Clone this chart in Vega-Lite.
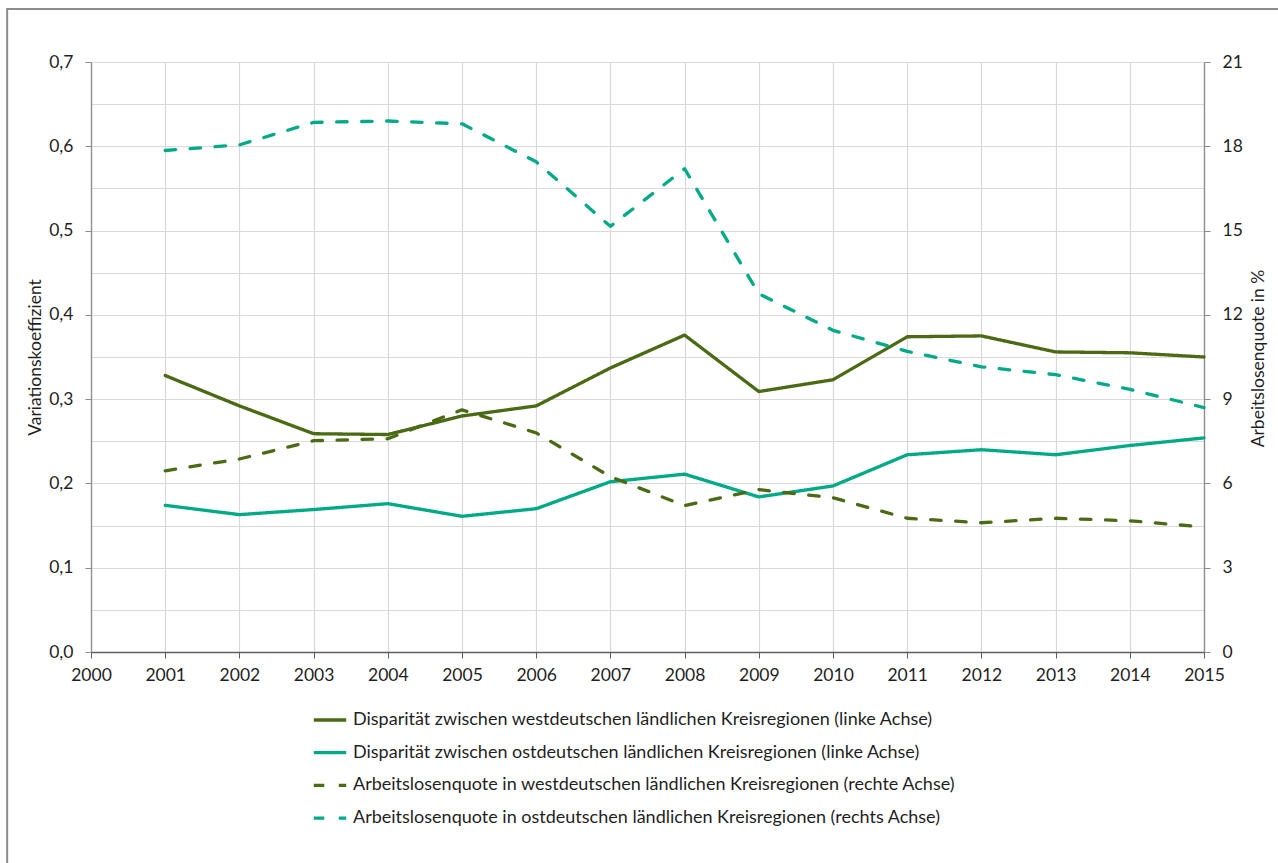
{
  "$schema": "https://vega.github.io/schema/vega-lite/v6.json",
  "width": 1113,
  "height": 590,
  "autosize": {"type": "none"},
  "padding": {"left": 91, "top": 62, "right": 74, "bottom": 211},
  "background": "white",
  "config": {
    "view": {"stroke": null},
    "font": "Lato",
    "axis": {
      "labelFont": "Lato",
      "labelFontSize": 17.5,
      "labelColor": "#1f1f1f",
      "titleFont": "Lato",
      "titleFontSize": 17.5,
      "titleFontWeight": "normal",
      "titleColor": "#1f1f1f",
      "tickSize": 6,
      "tickWidth": 1,
      "domainWidth": 1.3,
      "gridColor": "#d9d9d9",
      "gridWidth": 1.2
    },
    "legend": {
      "orient": "none",
      "legendX": 221,
      "legendY": 640,
      "direction": "vertical",
      "padding": 0,
      "symbolType": "stroke",
      "symbolSize": 1050,
      "symbolStrokeWidth": 3.3,
      "labelFont": "Lato",
      "labelFontSize": 18,
      "labelColor": "#1f1f1f",
      "labelOffset": 5,
      "labelLimit": 0,
      "rowPadding": 5.7
    }
  },
  "datasets": {
    "disparitaet": [
      {"jahr": 2001, "reihe": "Disparität zwischen westdeutschen ländlichen Kreisregionen (linke Achse)", "wert": 0.328},
      {"jahr": 2002, "reihe": "Disparität zwischen westdeutschen ländlichen Kreisregionen (linke Achse)", "wert": 0.292},
      {"jahr": 2003, "reihe": "Disparität zwischen westdeutschen ländlichen Kreisregionen (linke Achse)", "wert": 0.259},
      {"jahr": 2004, "reihe": "Disparität zwischen westdeutschen ländlichen Kreisregionen (linke Achse)", "wert": 0.258},
      {"jahr": 2005, "reihe": "Disparität zwischen westdeutschen ländlichen Kreisregionen (linke Achse)", "wert": 0.280},
      {"jahr": 2006, "reihe": "Disparität zwischen westdeutschen ländlichen Kreisregionen (linke Achse)", "wert": 0.292},
      {"jahr": 2007, "reihe": "Disparität zwischen westdeutschen ländlichen Kreisregionen (linke Achse)", "wert": 0.337},
      {"jahr": 2008, "reihe": "Disparität zwischen westdeutschen ländlichen Kreisregionen (linke Achse)", "wert": 0.376},
      {"jahr": 2009, "reihe": "Disparität zwischen westdeutschen ländlichen Kreisregionen (linke Achse)", "wert": 0.309},
      {"jahr": 2010, "reihe": "Disparität zwischen westdeutschen ländlichen Kreisregionen (linke Achse)", "wert": 0.323},
      {"jahr": 2011, "reihe": "Disparität zwischen westdeutschen ländlichen Kreisregionen (linke Achse)", "wert": 0.374},
      {"jahr": 2012, "reihe": "Disparität zwischen westdeutschen ländlichen Kreisregionen (linke Achse)", "wert": 0.375},
      {"jahr": 2013, "reihe": "Disparität zwischen westdeutschen ländlichen Kreisregionen (linke Achse)", "wert": 0.356},
      {"jahr": 2014, "reihe": "Disparität zwischen westdeutschen ländlichen Kreisregionen (linke Achse)", "wert": 0.355},
      {"jahr": 2015, "reihe": "Disparität zwischen westdeutschen ländlichen Kreisregionen (linke Achse)", "wert": 0.350},
      {"jahr": 2001, "reihe": "Disparität zwischen ostdeutschen ländlichen Kreisregionen (linke Achse)", "wert": 0.174},
      {"jahr": 2002, "reihe": "Disparität zwischen ostdeutschen ländlichen Kreisregionen (linke Achse)", "wert": 0.163},
      {"jahr": 2003, "reihe": "Disparität zwischen ostdeutschen ländlichen Kreisregionen (linke Achse)", "wert": 0.169},
      {"jahr": 2004, "reihe": "Disparität zwischen ostdeutschen ländlichen Kreisregionen (linke Achse)", "wert": 0.176},
      {"jahr": 2005, "reihe": "Disparität zwischen ostdeutschen ländlichen Kreisregionen (linke Achse)", "wert": 0.161},
      {"jahr": 2006, "reihe": "Disparität zwischen ostdeutschen ländlichen Kreisregionen (linke Achse)", "wert": 0.170},
      {"jahr": 2007, "reihe": "Disparität zwischen ostdeutschen ländlichen Kreisregionen (linke Achse)", "wert": 0.202},
      {"jahr": 2008, "reihe": "Disparität zwischen ostdeutschen ländlichen Kreisregionen (linke Achse)", "wert": 0.211},
      {"jahr": 2009, "reihe": "Disparität zwischen ostdeutschen ländlichen Kreisregionen (linke Achse)", "wert": 0.184},
      {"jahr": 2010, "reihe": "Disparität zwischen ostdeutschen ländlichen Kreisregionen (linke Achse)", "wert": 0.197},
      {"jahr": 2011, "reihe": "Disparität zwischen ostdeutschen ländlichen Kreisregionen (linke Achse)", "wert": 0.234},
      {"jahr": 2012, "reihe": "Disparität zwischen ostdeutschen ländlichen Kreisregionen (linke Achse)", "wert": 0.240},
      {"jahr": 2013, "reihe": "Disparität zwischen ostdeutschen ländlichen Kreisregionen (linke Achse)", "wert": 0.234},
      {"jahr": 2014, "reihe": "Disparität zwischen ostdeutschen ländlichen Kreisregionen (linke Achse)", "wert": 0.245},
      {"jahr": 2015, "reihe": "Disparität zwischen ostdeutschen ländlichen Kreisregionen (linke Achse)", "wert": 0.254}
    ],
    "arbeitslosenquote": [
      {"jahr": 2001, "reihe": "Arbeitslosenquote in westdeutschen ländlichen Kreisregionen (rechte Achse)", "wert": 6.45},
      {"jahr": 2002, "reihe": "Arbeitslosenquote in westdeutschen ländlichen Kreisregionen (rechte Achse)", "wert": 6.87},
      {"jahr": 2003, "reihe": "Arbeitslosenquote in westdeutschen ländlichen Kreisregionen (rechte Achse)", "wert": 7.52},
      {"jahr": 2004, "reihe": "Arbeitslosenquote in westdeutschen ländlichen Kreisregionen (rechte Achse)", "wert": 7.59},
      {"jahr": 2005, "reihe": "Arbeitslosenquote in westdeutschen ländlichen Kreisregionen (rechte Achse)", "wert": 8.62},
      {"jahr": 2006, "reihe": "Arbeitslosenquote in westdeutschen ländlichen Kreisregionen (rechte Achse)", "wert": 7.80},
      {"jahr": 2007, "reihe": "Arbeitslosenquote in westdeutschen ländlichen Kreisregionen (rechte Achse)", "wert": 6.24},
      {"jahr": 2008, "reihe": "Arbeitslosenquote in westdeutschen ländlichen Kreisregionen (rechte Achse)", "wert": 5.21},
      {"jahr": 2009, "reihe": "Arbeitslosenquote in westdeutschen ländlichen Kreisregionen (rechte Achse)", "wert": 5.78},
      {"jahr": 2010, "reihe": "Arbeitslosenquote in westdeutschen ländlichen Kreisregionen (rechte Achse)", "wert": 5.49},
      {"jahr": 2011, "reihe": "Arbeitslosenquote in westdeutschen ländlichen Kreisregionen (rechte Achse)", "wert": 4.76},
      {"jahr": 2012, "reihe": "Arbeitslosenquote in westdeutschen ländlichen Kreisregionen (rechte Achse)", "wert": 4.60},
      {"jahr": 2013, "reihe": "Arbeitslosenquote in westdeutschen ländlichen Kreisregionen (rechte Achse)", "wert": 4.76},
      {"jahr": 2014, "reihe": "Arbeitslosenquote in westdeutschen ländlichen Kreisregionen (rechte Achse)", "wert": 4.67},
      {"jahr": 2015, "reihe": "Arbeitslosenquote in westdeutschen ländlichen Kreisregionen (rechte Achse)", "wert": 4.45},
      {"jahr": 2001, "reihe": "Arbeitslosenquote in ostdeutschen ländlichen Kreisregionen (rechts Achse)", "wert": 17.85},
      {"jahr": 2002, "reihe": "Arbeitslosenquote in ostdeutschen ländlichen Kreisregionen (rechts Achse)", "wert": 18.05},
      {"jahr": 2003, "reihe": "Arbeitslosenquote in ostdeutschen ländlichen Kreisregionen (rechts Achse)", "wert": 18.85},
      {"jahr": 2004, "reihe": "Arbeitslosenquote in ostdeutschen ländlichen Kreisregionen (rechts Achse)", "wert": 18.9},
      {"jahr": 2005, "reihe": "Arbeitslosenquote in ostdeutschen ländlichen Kreisregionen (rechts Achse)", "wert": 18.8},
      {"jahr": 2006, "reihe": "Arbeitslosenquote in ostdeutschen ländlichen Kreisregionen (rechts Achse)", "wert": 17.45},
      {"jahr": 2007, "reihe": "Arbeitslosenquote in ostdeutschen ländlichen Kreisregionen (rechts Achse)", "wert": 15.15},
      {"jahr": 2008, "reihe": "Arbeitslosenquote in ostdeutschen ländlichen Kreisregionen (rechts Achse)", "wert": 17.2},
      {"jahr": 2009, "reihe": "Arbeitslosenquote in ostdeutschen ländlichen Kreisregionen (rechts Achse)", "wert": 12.75},
      {"jahr": 2010, "reihe": "Arbeitslosenquote in ostdeutschen ländlichen Kreisregionen (rechts Achse)", "wert": 11.45},
      {"jahr": 2011, "reihe": "Arbeitslosenquote in ostdeutschen ländlichen Kreisregionen (rechts Achse)", "wert": 10.7},
      {"jahr": 2012, "reihe": "Arbeitslosenquote in ostdeutschen ländlichen Kreisregionen (rechts Achse)", "wert": 10.15},
      {"jahr": 2013, "reihe": "Arbeitslosenquote in ostdeutschen ländlichen Kreisregionen (rechts Achse)", "wert": 9.87},
      {"jahr": 2014, "reihe": "Arbeitslosenquote in ostdeutschen ländlichen Kreisregionen (rechts Achse)", "wert": 9.35},
      {"jahr": 2015, "reihe": "Arbeitslosenquote in ostdeutschen ländlichen Kreisregionen (rechts Achse)", "wert": 8.7}
    ]
  },
  "layer": [
    {
      "data": {"name": "disparitaet"},
      "mark": {"type": "line", "strokeWidth": 3.3, "strokeCap": "round", "strokeJoin": "round"},
      "encoding": {
        "x": {
          "field": "jahr",
          "type": "quantitative",
          "scale": {"domain": [2000, 2015], "nice": false, "zero": false},
          "axis": {
            "title": null,
            "values": [2000, 2001, 2002, 2003, 2004, 2005, 2006, 2007, 2008, 2009, 2010, 2011, 2012, 2013, 2014, 2015],
            "format": "d",
            "grid": true,
            "domainColor": "#5f5f5f",
            "tickColor": "#5f5f5f",
            "labelPadding": 8,
            "labelFlush": false,
            "labelOverlap": false
          }
        },
        "y": {
          "field": "wert",
          "type": "quantitative",
          "scale": {"domain": [0, 0.7], "nice": false},
          "axis": {
            "orient": "left",
            "title": "Variationskoeffizient",
            "titleAngle": 270,
            "titleAlign": "center",
            "titleBaseline": "middle",
            "titleX": -56,
            "titleY": 295,
            "values": [0, 0.05, 0.1, 0.15, 0.2, 0.25, 0.3, 0.35, 0.4, 0.45, 0.5, 0.55, 0.6, 0.65, 0.7],
            "labelExpr": "round(datum.value * 100) % 10 == 0 ? replace(format(datum.value, '.1f'), '.', ',') : ''",
            "grid": true,
            "domainColor": "#8c8c8c",
            "tickColor": "#8c8c8c",
            "tickOpacity": {"condition": {"test": "round(datum.value * 100) % 10 != 0", "value": 0}, "value": 1},
            "labelPadding": 12,
            "labelFlush": false,
            "labelOverlap": false
          }
        },
        "color": {
          "field": "reihe",
          "type": "nominal",
          "title": null,
          "scale": {
            "domain": [
              "Disparität zwischen westdeutschen ländlichen Kreisregionen (linke Achse)",
              "Disparität zwischen ostdeutschen ländlichen Kreisregionen (linke Achse)",
              "Arbeitslosenquote in westdeutschen ländlichen Kreisregionen (rechte Achse)",
              "Arbeitslosenquote in ostdeutschen ländlichen Kreisregionen (rechts Achse)"
            ],
            "range": ["#4b6a14", "#00aa86", "#4b6a14", "#00aa86"]
          }
        },
        "strokeDash": {
          "field": "reihe",
          "type": "nominal",
          "title": null,
          "scale": {
            "domain": [
              "Disparität zwischen westdeutschen ländlichen Kreisregionen (linke Achse)",
              "Disparität zwischen ostdeutschen ländlichen Kreisregionen (linke Achse)",
              "Arbeitslosenquote in westdeutschen ländlichen Kreisregionen (rechte Achse)",
              "Arbeitslosenquote in ostdeutschen ländlichen Kreisregionen (rechts Achse)"
            ],
            "range": [[1, 0], [1, 0], [10.5, 14.5], [10.5, 14.5]]
          }
        }
      }
    },
    {
      "data": {"name": "arbeitslosenquote"},
      "mark": {"type": "line", "strokeWidth": 3.3, "strokeCap": "round", "strokeJoin": "round"},
      "encoding": {
        "x": {
          "field": "jahr",
          "type": "quantitative",
          "scale": {"domain": [2000, 2015], "nice": false, "zero": false}
        },
        "y": {
          "field": "wert",
          "type": "quantitative",
          "scale": {"domain": [0, 21], "nice": false},
          "axis": {
            "orient": "right",
            "title": "Arbeitslosenquote in %",
            "titleAngle": 270,
            "titleAlign": "center",
            "titleBaseline": "middle",
            "titleX": 54,
            "titleY": 296,
            "values": [0, 3, 6, 9, 12, 15, 18, 21],
            "format": "d",
            "grid": false,
            "domainColor": "#8c8c8c",
            "tickColor": "#8c8c8c",
            "labelPadding": 12,
            "labelFlush": false,
            "labelOverlap": false
          }
        },
        "color": {"field": "reihe", "type": "nominal", "title": null},
        "strokeDash": {"field": "reihe", "type": "nominal", "title": null}
      }
    },
    {
      "data": {"values": [{}]},
      "mark": {"type": "rect", "fill": null, "stroke": "#8c8c8c", "strokeWidth": 2},
      "encoding": {
        "x": {"datum": 1998.87, "type": "quantitative", "scale": {"domain": [2000, 2015], "nice": false, "zero": false}},
        "x2": {"datum": 2030},
        "y": {"datum": 0.7628, "type": "quantitative", "scale": {"domain": [0, 0.7], "nice": false}, "axis": null},
        "y2": {"datum": -1}
      }
    }
  ],
  "resolve": {"scale": {"y": "independent"}}
}
